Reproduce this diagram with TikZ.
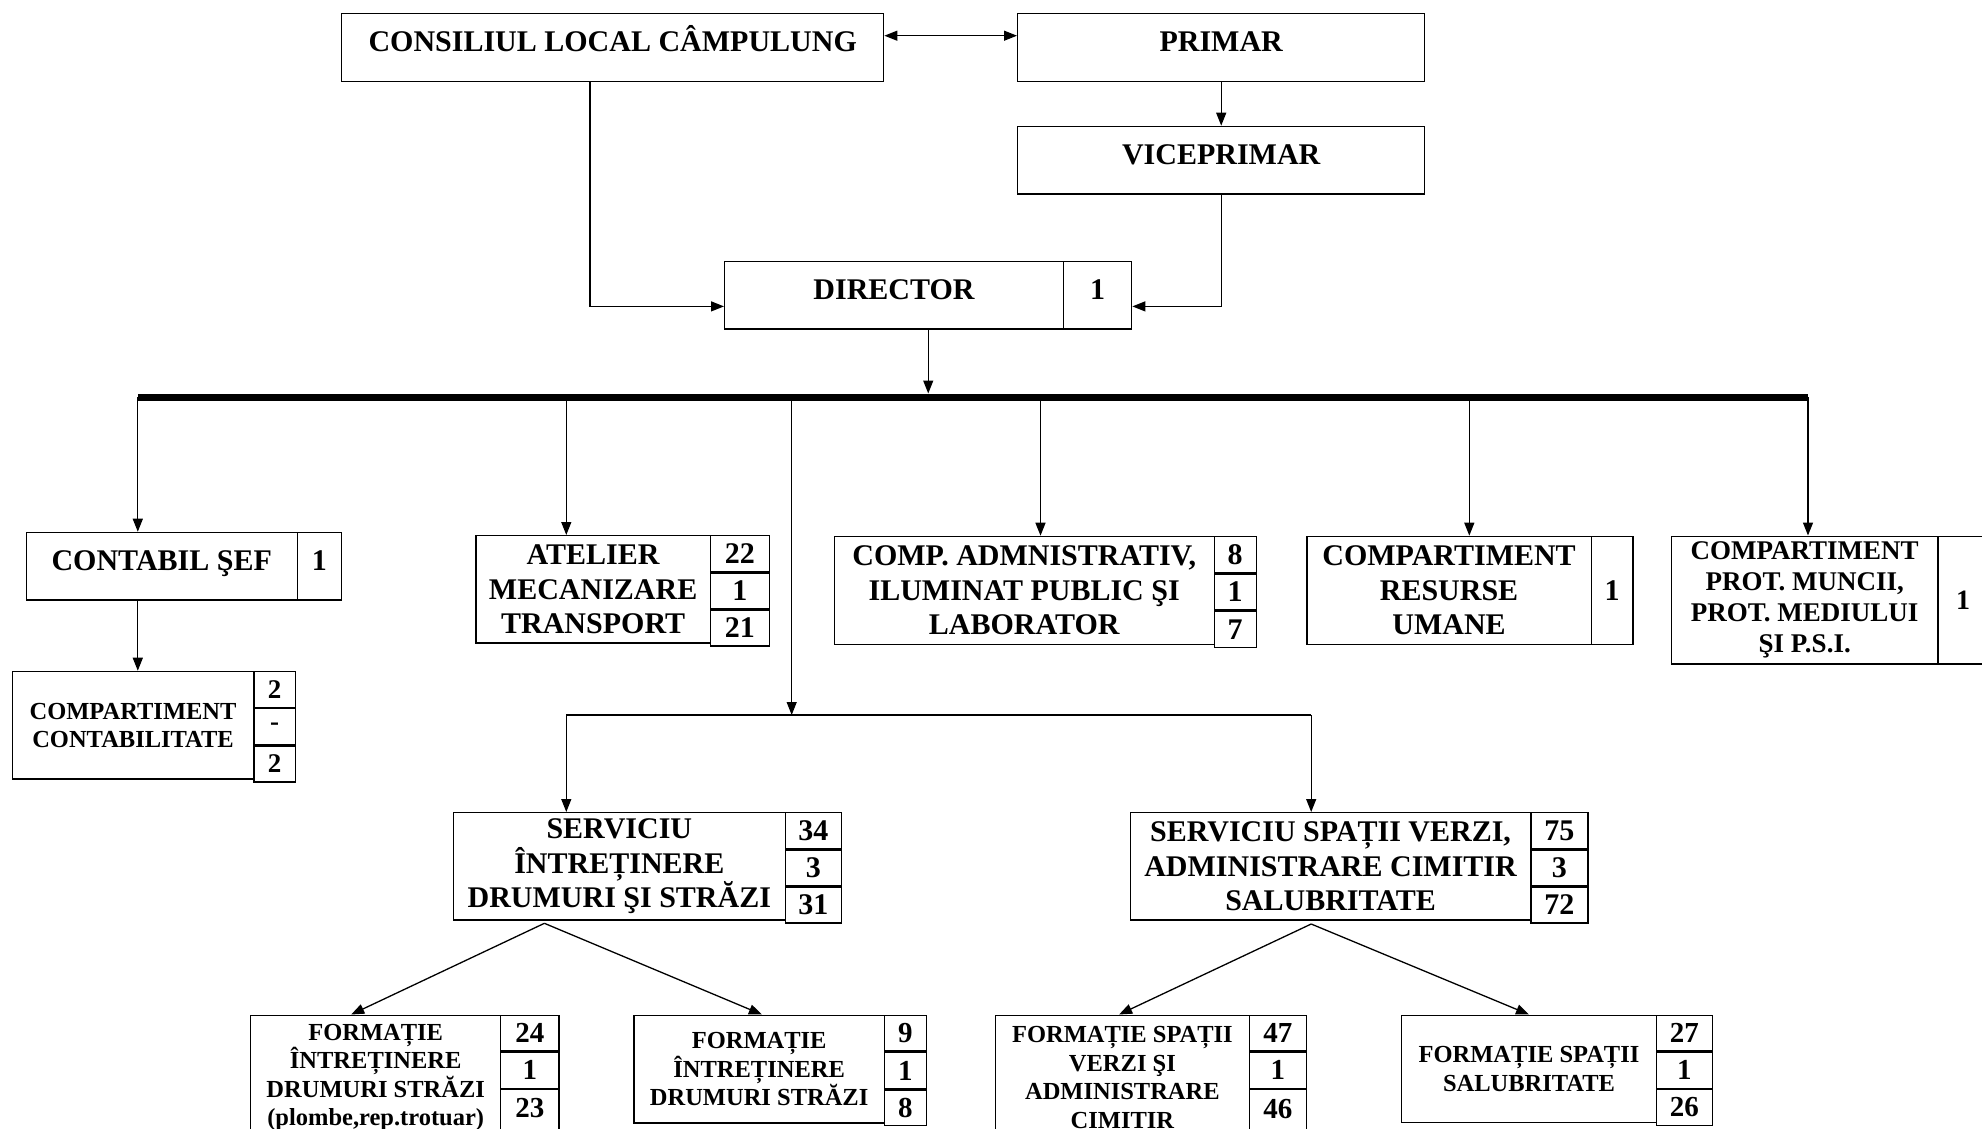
\documentclass[tikz,border=0pt]{standalone}
\usepackage{fontspec}
\setmainfont{Liberation Serif}
\usetikzlibrary{arrows.meta}
\begin{document}
\begin{tikzpicture}[x=1pt,y=-1pt,
  box/.style={draw, line width=1.4pt, inner sep=0pt, align=center, anchor=north west,
    font=\bfseries\fontsize{30}{34.5}\selectfont},
  one/.style={text height=20pt, text depth=12pt},
  sm/.style={font=\bfseries\fontsize{24.5}{28.3}\selectfont},
  smnum/.style={font=\bfseries\fontsize{27}{31}\selectfont},
  pr/.style={font=\bfseries\fontsize{27}{31}\selectfont},
  prnum/.style={font=\bfseries\fontsize{28}{32}\selectfont},
  bt/.style={font=\bfseries\fontsize{24.5}{28.5}\selectfont},
  btnum/.style={font=\bfseries\fontsize{29}{33}\selectfont},
  conn/.style={line width=1.3pt},
  tip/.tip={Triangle[length=13pt,width=10pt]},
  arr/.style={conn, -tip},
]
\useasboundingbox (0,0) rectangle (1982,1128);

% ---- top level
\node[box, one, minimum width=542pt, minimum height=68pt] (cons) at (341,12.5) {CONSILIUL LOCAL CÂMPULUNG};
\node[box, one, minimum width=407pt, minimum height=68pt] (prim) at (1017,12.5) {PRIMAR};
\node[box, one, minimum width=407pt, minimum height=67.6pt] (vice) at (1017,125.7) {VICEPRIMAR};
\node[box, one, minimum width=338.7pt, minimum height=67.6pt] (dir) at (724,260.7) {DIRECTOR};
\node[box, one, minimum width=68.3pt, minimum height=67.6pt] (dirn) at (1062.7,260.7) {1};

\draw[conn, tip-tip] ([yshift=11.5pt]cons.east) -- ([yshift=11.5pt]prim.west);
\draw[arr] (prim) -- (vice);
\draw[arr] ([xshift=-22.7pt]cons.south) |- ([yshift=-11.2pt]dir.west);
\draw[arr] (vice.south) |- ([yshift=-11.2pt]dirn.east);

% ---- bar
\coordinate (barL) at (137.8,397);
\coordinate (barR) at (1808,397);
\coordinate (b2) at (566.3,397);
\coordinate (b3) at (791.7,397);
\coordinate (b4) at (1040.5,397);
\coordinate (b5) at (1469.3,397);
\coordinate (dirout) at ([xshift=34.2pt]dir.south);
\draw[line width=7pt] (barL) -- (barR);
\draw[arr, shorten >=3.5pt] (dirout) -- (dirout |- barL);

% ---- second level
\node[box, one, minimum width=271.1pt, minimum height=67.6pt] (cont) at (25.5,531.7) {CONTABIL ŞEF};
\node[box, one, minimum width=44pt, minimum height=67.6pt] (contn) at (296.6,531.7) {1};

\node[box, sm, minimum width=241.7pt, minimum height=107.6pt] (contab) at (11.5,670.7) {COMPARTIMENT\\CONTABILITATE};
\node[box, smnum, minimum width=41.4pt, minimum height=35.87pt] (contab1) at (253.2,670.7) {2};
\node[box, smnum, minimum width=41.4pt, minimum height=35.87pt] (contab2) at (contab1.south west) {-};
\node[box, smnum, minimum width=41.4pt, minimum height=35.87pt] (contab3) at (contab2.south west) {2};

\node[box, minimum width=234.7pt, minimum height=107.3pt] (atel) at (475.1,535) {ATELIER\\MECANIZARE\\TRANSPORT};
\node[box, minimum width=58.7pt, minimum height=35.77pt] (atel1) at (709.8,535) {22};
\node[box, minimum width=58.7pt, minimum height=35.77pt] (atel2) at (atel1.south west) {1};
\node[box, minimum width=58.7pt, minimum height=35.77pt] (atel3) at (atel2.south west) {21};

\node[box, minimum width=380pt, minimum height=108.3pt] (adm) at (833.5,535.7) {COMP. ADMNISTRATIV,\\ILUMINAT PUBLIC ŞI\\LABORATOR};
\node[box, minimum width=42pt, minimum height=36.1pt] (adm1) at (1213.5,535.7) {8};
\node[box, minimum width=42pt, minimum height=36.1pt] (adm2) at (adm1.south west) {1};
\node[box, minimum width=42pt, minimum height=36.1pt] (adm3) at (adm2.south west) {7};

\node[box, minimum width=284.3pt, minimum height=108.3pt] (res) at (1306.2,535.7) {COMPARTIMENT\\RESURSE\\UMANE};
\node[box, minimum width=41.9pt, minimum height=108.3pt] (resn) at (1590.5,535.7) {1};

\node[box, pr, minimum width=266.6pt, minimum height=127.8pt] (prot) at (1670.7,535.5) {COMPARTIMENT\\PROT. MUNCII,\\PROT. MEDIULUI\\ŞI P.S.I.};
\node[box, prnum, minimum width=50pt, minimum height=127.8pt] (protn) at (1937.3,535.5) {1};

\draw[arr] (barL) -- (cont.north -| barL);
\draw[arr] (cont.south -| barL) -- (contab.north -| barL);
\draw[arr] (b2) -- (atel.north -| b2);
\draw[arr] (b4) -- (adm.north -| b4);
\draw[arr] (b5) -- (res.north -| b5);
\draw[arr] (barR) -- (prot.north -| barR);

% ---- services
\coordinate (hub) at (791.7,715);
\coordinate (hl) at (566.3,715);
\coordinate (hr) at (1311.2,715);
\draw[arr] (b3) -- (hub);
\draw[conn] (hl) -- (hr);

\node[box, minimum width=332.1pt, minimum height=107.3pt] (serv1) at (452.6,812) {SERVICIU\\ÎNTREȚINERE\\DRUMURI ŞI STRĂZI};
\node[box, minimum width=56.1pt, minimum height=35.77pt] (serv1a) at (784.7,812) {34};
\node[box, minimum width=56.1pt, minimum height=35.77pt] (serv1b) at (serv1a.south west) {3};
\node[box, minimum width=56.1pt, minimum height=35.77pt] (serv1c) at (serv1b.south west) {31};

\node[box, minimum width=400.5pt, minimum height=107.3pt] (serv2) at (1129.6,812) {SERVICIU SPAȚII VERZI,\\ADMINISTRARE CIMITIR\\SALUBRITATE};
\node[box, minimum width=57.1pt, minimum height=35.77pt] (serv2a) at (1530.1,812) {75};
\node[box, minimum width=57.1pt, minimum height=35.77pt] (serv2b) at (serv2a.south west) {3};
\node[box, minimum width=57.1pt, minimum height=35.77pt] (serv2c) at (serv2b.south west) {72};

\draw[arr] (hl) -- (serv1.north -| hl);
\draw[arr] (hr) -- (serv2.north -| hr);

% ---- formations
\node[box, bt, minimum width=250pt, minimum height=125pt] (f1) at (250,1014.5) {FORMAȚIE\\ÎNTREȚINERE\\DRUMURI STRĂZI\\(plombe,rep.trotuar)};
\node[box, btnum, minimum width=58.2pt, minimum height=35.85pt] (f1a) at (500,1014.5) {24};
\node[box, btnum, minimum width=58.2pt, minimum height=35.85pt] (f1b) at (f1a.south west) {1};
\node[box, btnum, minimum width=58.2pt, minimum height=53.3pt, text height=20pt, text depth=17.8pt] (f1c) at (f1b.south west) {23};

\node[box, bt, minimum width=250.5pt, minimum height=107.7pt] (f2) at (633.2,1014.5) {FORMAȚIE\\ÎNTREȚINERE\\DRUMURI STRĂZI};
\node[box, btnum, minimum width=41.8pt, minimum height=35.9pt] (f2a) at (883.7,1014.5) {9};
\node[box, btnum, minimum width=41.8pt, minimum height=35.9pt] (f2b) at (f2a.south west) {1};
\node[box, btnum, minimum width=41.8pt, minimum height=35.9pt] (f2c) at (f2b.south west) {8};

\node[box, bt, minimum width=253.6pt, minimum height=125pt] (f3) at (994.9,1014.5) {FORMAȚIE SPAȚII\\VERZI ŞI\\ADMINISTRARE\\CIMITIR};
\node[box, btnum, minimum width=57.1pt, minimum height=35.85pt] (f3a) at (1248.5,1014.5) {47};
\node[box, btnum, minimum width=57.1pt, minimum height=35.85pt] (f3b) at (f3a.south west) {1};
\node[box, btnum, minimum width=57.1pt, minimum height=53.3pt, text height=20pt, text depth=16pt] (f3c) at (f3b.south west) {46};

\node[box, bt, minimum width=254.6pt, minimum height=107.4pt] (f4) at (1401,1014.5) {FORMAȚIE SPAȚII\\SALUBRITATE};
\node[box, btnum, minimum width=56.1pt, minimum height=35.8pt] (f4a) at (1655.6,1014.5) {27};
\node[box, btnum, minimum width=56.1pt, minimum height=35.8pt] (f4b) at (f4a.south west) {1};
\node[box, btnum, minimum width=56.1pt, minimum height=35.8pt] (f4c) at (f4b.south west) {26};

\coordinate (ap1) at (544.4,923.3);
\coordinate (ap2) at (1311.2,924);
\draw[arr] (ap1) -- ([xshift=-24.5pt]f1.north);
\draw[arr] (ap1) -- ([xshift=2.75pt]f2.north);
\draw[arr] (ap2) -- ([xshift=-3.3pt]f3.north);
\draw[arr] (ap2) -- (f4.north);
\end{tikzpicture}
\end{document}
